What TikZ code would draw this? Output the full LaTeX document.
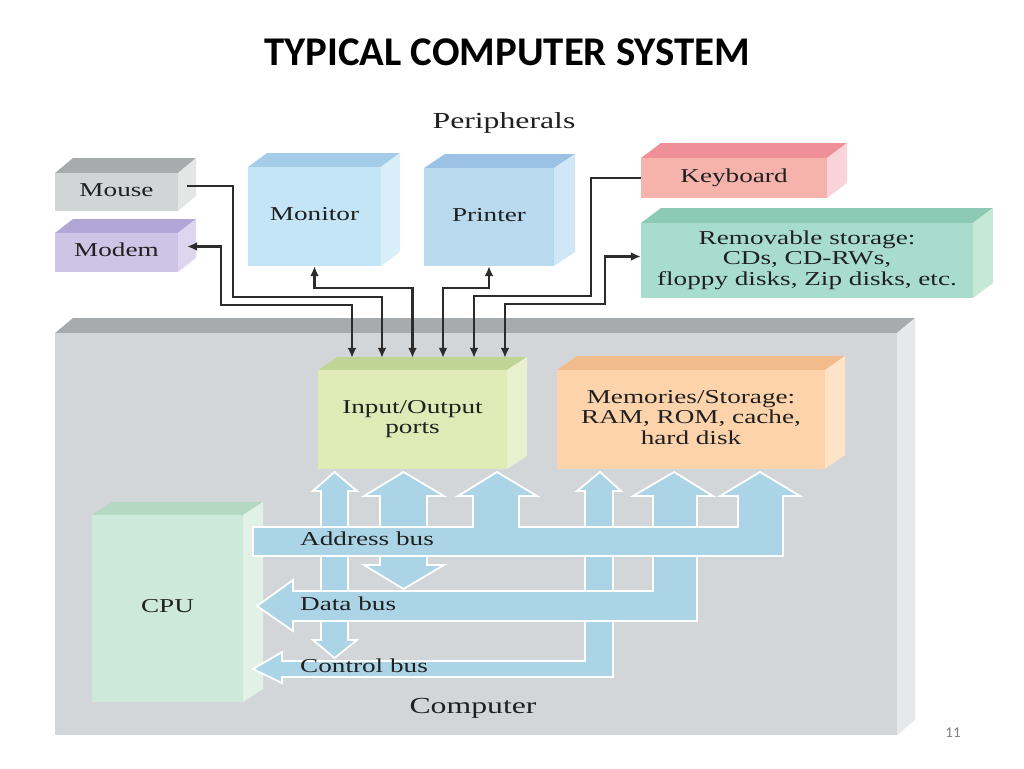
\documentclass[tikz,border=0pt]{standalone}
\usepackage{fontspec}
\usepackage{graphicx}
\setmainfont{Liberation Serif}
\newfontfamily\titlefont{Carlito}
\usetikzlibrary{arrows.meta,calc}
\definecolor{txt}{HTML}{202020}
\definecolor{lin}{HTML}{2C2C2C}
\definecolor{busc}{HTML}{ABD5E7}
\definecolor{compF}{HTML}{D3D6D8}\definecolor{compT}{HTML}{A8ABAE}\definecolor{compS}{HTML}{E6E8E9}
\definecolor{mouseF}{HTML}{D2D5D5}\definecolor{mouseT}{HTML}{A8ABAB}\definecolor{mouseS}{HTML}{E4E6E6}
\definecolor{modemF}{HTML}{CDC5E5}\definecolor{modemT}{HTML}{B1A7D7}\definecolor{modemS}{HTML}{DDD6EE}
\definecolor{monF}{HTML}{C4E5F6}\definecolor{monT}{HTML}{A5CDE8}\definecolor{monS}{HTML}{D8EFFA}
\definecolor{prnF}{HTML}{B9D9EF}\definecolor{prnT}{HTML}{9BC1E4}\definecolor{prnS}{HTML}{CFE7F7}
\definecolor{keyF}{HTML}{F5B3AC}\definecolor{keyT}{HTML}{EF9098}\definecolor{keyS}{HTML}{F8D4D9}
\definecolor{remF}{HTML}{A8DDCE}\definecolor{remT}{HTML}{8CCAB6}\definecolor{remS}{HTML}{C6E8D7}
\definecolor{ioF}{HTML}{DFEAB6}\definecolor{ioT}{HTML}{C0D496}\definecolor{ioS}{HTML}{E9F0CD}
\definecolor{memF}{HTML}{FCD3AB}\definecolor{memT}{HTML}{F2BB8B}\definecolor{memS}{HTML}{FEE3C6}
\definecolor{cpuF}{HTML}{CDE9D9}\definecolor{cpuT}{HTML}{B3D9C3}\definecolor{cpuS}{HTML}{E1F1E6}
\newcommand\stretchtext[1]{\scalebox{1.38}[1]{\begin{tabular}{@{}c@{}}#1\end{tabular}}}
% #1 name, #2 x1, #3 y1, #4 x2, #5 y2, #6 dx, #7 dy, #8 colour prefix, #9 text
\newcommand\blk[9]{%
  \fill[#8T] ({#2},{#3}) -- ({#2+#6},{#3-#7}) -- ({#4+#6},{#3-#7}) -- ({#4},{#3}) -- cycle;
  \fill[#8S] ({#4},{#3}) -- ({#4+#6},{#3-#7}) -- ({#4+#6},{#5-#7}) -- ({#4},{#5}) -- cycle;
  \node[lbl, fill=#8F, minimum width={(#4-#2)*1pt}, minimum height={(#5-#3)*1pt}] (#1) at ({(#2+#4)/2},{(#3+#5)/2}) {\stretchtext{#9}};
}
\begin{document}
\begin{tikzpicture}[x=1pt,y=-1pt,
  lbl/.style={text=txt, font=\fontsize{19.7}{20.5}\selectfont, align=center, inner sep=0pt},
  biglbl/.style={text=txt, font=\fontsize{23}{26}\selectfont, inner sep=0pt},
  conn/.style={draw=lin, line width=2.8pt},
  tipc/.style={-{Latex[length=10pt,width=9pt]}},
  bothc/.style={{Latex[length=10pt,width=9pt]}-{Latex[length=10pt,width=9pt]}},
  bus/.style={fill=busc, draw=white, line width=1.8pt, line join=miter}]
\useasboundingbox (0,0) rectangle (1024,768);
\fill[white] (0,0) rectangle (1024,768);

\node[font=\titlefont\bfseries\fontsize{40.8}{48}\selectfont, anchor=base, inner sep=0pt] (title) at (507,65) {TYPICAL COMPUTER SYSTEM};
\node[biglbl] (periph) at (504,123) {\stretchtext{Peripherals}};

% computer
\blk{computer}{55}{333}{897}{735}{18}{15}{comp}{}
\node[biglbl] (complbl) at (473,708) {\stretchtext{Computer}};

% peripherals
\blk{mouse}{55}{173}{178}{211}{18}{15}{mouse}{Mouse}
\blk{modem}{55}{233}{178}{272}{18}{14}{modem}{Modem}
\blk{monitor}{248}{167}{381}{266}{19}{14}{mon}{Monitor}
\blk{printer}{424}{168}{554}{266}{21}{14}{prn}{Printer}
\blk{keyboard}{641}{158}{827}{198}{20}{15}{key}{Keyboard}
\blk{remov}{641}{223}{973}{298}{20}{15}{rem}{Removable storage:\\CDs, CD-RWs,\\floppy disks, Zip disks, etc.}

% internal blocks
\blk{io}{318}{370}{507}{469}{20}{13}{io}{Input/Output\\ports}
\blk{mem}{557}{370}{825}{469}{20}{14}{mem}{Memories/Storage:\\RAM, ROM, cache,\\hard disk}
\blk{cpu}{92}{515}{243}{702}{20}{13}{cpu}{CPU}

% buses
\draw[bus] (253,669) -- (282,652) -- (282,661) -- (585,661) -- (585,491) -- (577,491) -- (600,472) -- (621,491) -- (613,491) -- (613,677) -- (282,677) -- (282,683) -- cycle;
\draw[bus] (334.5,472) -- (357,491) -- (348,491) -- (348,640) -- (357,640) -- (334.5,658) -- (313,640) -- (321,640) -- (321,491) -- (313,491) -- cycle;
\draw[bus] (257,606) -- (293,580) -- (293,591) -- (653,591) -- (653,496) -- (633,496) -- (674,472) -- (713,496) -- (697,496) -- (697,621) -- (293,621) -- (293,631) -- cycle;
\draw[bus] (403.5,472) -- (444,496) -- (427,496) -- (427,565) -- (444,565) -- (403.5,589) -- (364,565) -- (380,565) -- (380,496) -- (364,496) -- cycle;
\draw[bus] (253,527) -- (473,527) -- (473,496) -- (458,496) -- (497,472) -- (537,496) -- (519,496) -- (519,527) -- (738,527) -- (738,496) -- (720,496) -- (760,472) -- (800,496) -- (783,496) -- (783,556) -- (253,556) -- cycle;
\node[lbl, anchor=west] (addr) at (300,541) {\stretchtext{Address bus}};
\node[lbl, anchor=west] (data) at (300,606) {\stretchtext{Data bus}};
\node[lbl, anchor=west] (ctrl) at (300,668) {\stretchtext{Control bus}};

% port coordinates on the I/O block
\coordinate (p1) at ($(io.north)+(-60.5,-12)$);
\coordinate (p2) at ($(io.north)+(-30.5,-12)$);
\coordinate (p3) at ($(io.north)+(0,-12)$);
\coordinate (p4) at ($(io.north)+(30.5,-12)$);
\coordinate (p5) at ($(io.north)+(61.5,-12)$);
\coordinate (p6) at ($(io.north)+(92.5,-12)$);

% connectors
\draw[conn,tipc] ($(mouse.east)+(9,-6)$) -| (233,297) -| (p2);
\draw[conn,bothc] ($(modem.east)+(9,-6)$) -| (221,305) -| (p1);
\draw[conn,bothc] (monitor.south) |- (412.5,288) -- (p3);
\draw[conn,bothc] (printer.south) |- (443,288) -- (p4);
\draw[conn,tipc] (keyboard.west) -| (591,296) -| (p5);
\draw[conn,bothc] ($(remov.west)+(0,-4)$) -| (605,304) -| (p6);

\node[font=\titlefont\fontsize{15}{18}\selectfont, text=black!50, inner sep=0pt] (pg) at (953,733) {11};
\end{tikzpicture}
\end{document}
